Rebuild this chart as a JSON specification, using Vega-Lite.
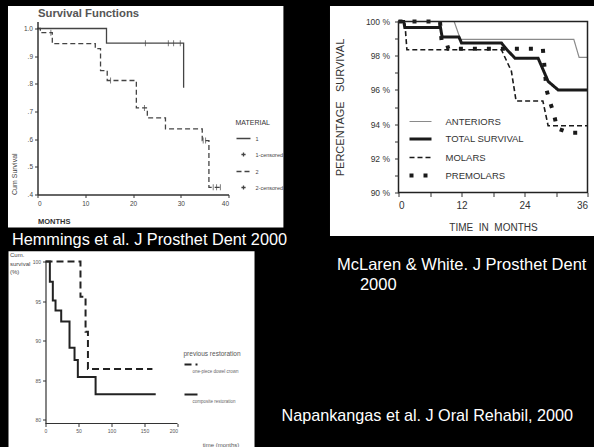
{
  "$schema": "https://vega.github.io/schema/vega-lite/v6.json",
  "background": "black",
  "padding": {"left": 7.5, "top": 5.5, "right": 0, "bottom": 0},
  "config": {
    "font": "Liberation Sans",
    "view": {"stroke": null},
    "axis": {"grid": false},
    "legend": {"labelFont": "Liberation Sans", "titleFont": "Liberation Sans"}
  },
  "resolve": {"scale": {"strokeDash": "independent", "color": "independent", "strokeWidth": "independent"}},
  "spacing": 2,
  "vconcat": [
    {
      "spacing": 42,
      "resolve": {"scale": {"strokeDash": "independent", "color": "independent", "strokeWidth": "independent"}},
      "hconcat": [
        {
          "width": 191,
          "height": 173,
          "title": {"text": "Hemmings et al. J Prosthet Dent 2000", "orient": "bottom", "anchor": "start", "dx": 4, "offset": 4, "baseline": "top", "color": "white", "fontSize": 16.3, "font": "Liberation Sans", "fontWeight": "normal"},
          "resolve": {"axis": {"x": "independent", "y": "independent"}},
          "layer": [
            {
              "data": {"values": [{}]},
              "mark": {"type": "rect", "color": "white"},
              "encoding": {
                "x": {"datum": -6.18, "type": "quantitative", "scale": {"domain": [0, 40], "nice": false, "zero": false},
                  "axis": {"zindex": 1, "values": [0, 10, 20, 30, 40], "title": "MONTHS", "titleAnchor": "start", "titleAlign": "left", "titleFontSize": 7.5, "titleFontWeight": "bold", "titleColor": "#333", "titlePadding": 10, "labelFontSize": 6.5, "labelColor": "#444", "labelPadding": 3, "tickSize": 3, "tickColor": "#333", "domainColor": "#333", "domainWidth": 1.5}},
                "x2": {"datum": 51.5},
                "y": {"datum": 0.2807, "type": "quantitative", "scale": {"domain": [0.4, 1.0253], "nice": false, "zero": false},
                  "axis": {"zindex": 1, "values": [0.4, 0.5, 0.6, 0.7, 0.8, 0.9, 1.0], "labelExpr": "replace(format(datum.value, '.1f'), '0.', '.')", "title": "Cum Survival", "titleAnchor": "start", "titleFontSize": 7, "titleFontWeight": "normal", "titleColor": "#444", "titlePadding": 6, "labelFontSize": 6.5, "labelColor": "#444", "tickSize": 3, "tickColor": "#333", "domainColor": "#333", "domainWidth": 1.5}},
                "y2": {"datum": 1.0813}
              }
            },
            {
              "data": {"values": [
                {"material": "1", "month": 0, "survival": 1.0},
                {"material": "1", "month": 14.45, "survival": 0.947},
                {"material": "1", "month": 30.6, "survival": 0.786},
                {"material": "2", "month": 0, "survival": 1.0},
                {"material": "2", "month": 0.6, "survival": 0.985},
                {"material": "2", "month": 3.1, "survival": 0.945},
                {"material": "2", "month": 12.1, "survival": 0.927},
                {"material": "2", "month": 13.2, "survival": 0.848},
                {"material": "2", "month": 14.6, "survival": 0.812},
                {"material": "2", "month": 20.7, "survival": 0.713},
                {"material": "2", "month": 23.0, "survival": 0.677},
                {"material": "2", "month": 26.8, "survival": 0.637},
                {"material": "2", "month": 34.5, "survival": 0.595},
                {"material": "2", "month": 35.9, "survival": 0.426},
                {"material": "2", "month": 38.7, "survival": 0.426}
              ]},
              "mark": {"type": "line", "interpolate": "step-after", "strokeWidth": 1.3, "color": "#444"},
              "encoding": {
                "x": {"field": "month", "type": "quantitative", "axis": null},
                "y": {"field": "survival", "type": "quantitative", "axis": null},
                "strokeDash": {"field": "material", "type": "nominal",
                  "scale": {"domain": ["1", "1-censored", "2", "2-censored"], "range": [[1, 0], [1, 0], [5, 3], [5, 3]]},
                  "legend": {"title": "MATERIAL", "orient": "none", "legendX": 198, "legendY": 97, "titleFontSize": 7, "titleFontWeight": "normal", "titleColor": "#333", "titlePadding": 5, "labelFontSize": 5.5, "labelColor": "#444", "symbolType": "stroke", "symbolSize": 196, "symbolStrokeWidth": 1.3, "symbolStrokeColor": "#444", "rowPadding": 4, "labelOffset": 4,
                    "encode": {"symbols": {"update": {"shape": {"signal": "indexof(datum.value, 'censored') >= 0 ? 'M-0.3,0H0.3M0,-0.3V0.3' : 'stroke'"}}}}}}
              }
            },
            {
              "data": {"values": [
                {"material": "1", "month": 22.6, "survival": 0.947},
                {"material": "1", "month": 27.4, "survival": 0.947},
                {"material": "1", "month": 28.5, "survival": 0.947},
                {"material": "1", "month": 29.9, "survival": 0.947},
                {"material": "2", "month": 2.8, "survival": 0.985},
                {"material": "2", "month": 15.3, "survival": 0.812},
                {"material": "2", "month": 22.4, "survival": 0.713},
                {"material": "2", "month": 34.7, "survival": 0.595},
                {"material": "2", "month": 35.2, "survival": 0.595},
                {"material": "2", "month": 36.8, "survival": 0.426},
                {"material": "2", "month": 37.5, "survival": 0.426},
                {"material": "2", "month": 38.3, "survival": 0.426}
              ]},
              "mark": {"type": "tick", "orient": "vertical", "size": 6, "thickness": 1, "color": "#444"},
              "encoding": {
                "x": {"field": "month", "type": "quantitative",
                  "axis": {"zindex": 1, "orient": "top", "domain": false, "ticks": false, "labels": false, "title": "Survival Functions", "titleAnchor": "start", "titleAlign": "left", "titleFontSize": 11.3, "titleFontWeight": "bold", "titleColor": "#555", "titlePadding": 3.5}},
                "y": {"field": "survival", "type": "quantitative", "axis": null}
              }
            }
          ]
        },
        {
          "width": 189,
          "height": 171,
          "resolve": {"axis": {"x": "independent", "y": "independent"}},
          "layer": [
            {
              "data": {"values": [{}]},
              "mark": {"type": "rect", "color": "white"},
              "encoding": {
                "x": {"datum": -13.05, "type": "quantitative", "scale": {"domain": [0, 36], "nice": false, "zero": false},
                  "axis": {"zindex": 1, "values": [0, 6, 12, 18, 24, 30, 36], "labelExpr": "datum.value % 12 === 0 ? datum.label : ''", "domain": false, "tickSize": 4, "tickColor": "#333", "labelFontSize": 10, "labelColor": "#333", "labelPadding": 4, "title": "TIME\u00a0\u00a0IN\u00a0\u00a0MONTHS", "titleFontSize": 10, "titleFontWeight": "normal", "titleColor": "#333", "titlePadding": 12}},
                "x2": {"datum": 37.24},
                "y": {"datum": 87.456, "type": "quantitative", "scale": {"domain": [90, 100], "nice": false, "zero": false},
                  "axis": {"zindex": 1, "values": [90, 91, 92, 93, 94, 95, 96, 97, 98, 99, 100], "labelExpr": "datum.value % 2 === 0 ? datum.value + ' %' : ''", "domain": false, "tickSize": 4, "tickColor": "#333", "labelFontSize": 8.5, "labelColor": "#333", "labelPadding": 5, "title": "PERCENTAGE\u00a0\u00a0\u00a0SURVIVAL", "titleFontSize": 11, "titleFontWeight": "normal", "titleColor": "#333", "titlePadding": 20}},
                "y2": {"datum": 100.906}
              }
            },
            {
              "data": {"values": [
                {"series": "ANTERIORS", "month": 0, "pct": 100},
                {"series": "ANTERIORS", "month": 10.6, "pct": 100},
                {"series": "ANTERIORS", "month": 11.8, "pct": 98.95},
                {"series": "ANTERIORS", "month": 33.4, "pct": 98.95},
                {"series": "ANTERIORS", "month": 34.4, "pct": 97.9},
                {"series": "ANTERIORS", "month": 36, "pct": 97.9},
                {"series": "TOTAL SURVIVAL", "month": 0, "pct": 100},
                {"series": "TOTAL SURVIVAL", "month": 1.0, "pct": 100},
                {"series": "TOTAL SURVIVAL", "month": 1.2, "pct": 99.65},
                {"series": "TOTAL SURVIVAL", "month": 8.0, "pct": 99.65},
                {"series": "TOTAL SURVIVAL", "month": 8.3, "pct": 99.1},
                {"series": "TOTAL SURVIVAL", "month": 11.5, "pct": 99.1},
                {"series": "TOTAL SURVIVAL", "month": 12.0, "pct": 98.75},
                {"series": "TOTAL SURVIVAL", "month": 19.6, "pct": 98.75},
                {"series": "TOTAL SURVIVAL", "month": 20.5, "pct": 98.4},
                {"series": "TOTAL SURVIVAL", "month": 22.2, "pct": 97.85},
                {"series": "TOTAL SURVIVAL", "month": 26.6, "pct": 97.85},
                {"series": "TOTAL SURVIVAL", "month": 28.5, "pct": 96.5},
                {"series": "TOTAL SURVIVAL", "month": 30.4, "pct": 96.0},
                {"series": "TOTAL SURVIVAL", "month": 36, "pct": 96.0},
                {"series": "MOLARS", "month": 0, "pct": 100},
                {"series": "MOLARS", "month": 1.2, "pct": 100},
                {"series": "MOLARS", "month": 1.6, "pct": 98.35},
                {"series": "MOLARS", "month": 19.6, "pct": 98.35},
                {"series": "MOLARS", "month": 21.5, "pct": 97.1},
                {"series": "MOLARS", "month": 22.4, "pct": 95.35},
                {"series": "MOLARS", "month": 27.5, "pct": 95.35},
                {"series": "MOLARS", "month": 28.5, "pct": 93.9},
                {"series": "MOLARS", "month": 36, "pct": 93.9},
                {"series": "PREMOLARS", "month": 0, "pct": 100},
                {"series": "PREMOLARS", "month": 7.9, "pct": 100},
                {"series": "PREMOLARS", "month": 8.2, "pct": 98.9},
                {"series": "PREMOLARS", "month": 9.0, "pct": 98.9},
                {"series": "PREMOLARS", "month": 9.5, "pct": 98.4},
                {"series": "PREMOLARS", "month": 27.5, "pct": 98.4},
                {"series": "PREMOLARS", "month": 28.2, "pct": 96.0},
                {"series": "PREMOLARS", "month": 28.8, "pct": 95.35},
                {"series": "PREMOLARS", "month": 29.6, "pct": 94.6},
                {"series": "PREMOLARS", "month": 30.2, "pct": 93.75},
                {"series": "PREMOLARS", "month": 32.5, "pct": 93.5},
                {"series": "PREMOLARS", "month": 36, "pct": 93.5}
              ]},
              "mark": {"type": "line"},
              "encoding": {
                "x": {"field": "month", "type": "quantitative", "axis": null},
                "y": {"field": "pct", "type": "quantitative", "axis": null},
                "color": {"field": "series", "type": "nominal",
                  "scale": {"domain": ["ANTERIORS", "TOTAL SURVIVAL", "MOLARS", "PREMOLARS"], "range": ["#8a8a8a", "#1a1a1a", "#1a1a1a", "#1a1a1a"]},
                  "legend": {"title": null, "orient": "bottom-left", "offset": 9, "labelFontSize": 9.5, "labelColor": "#333", "symbolType": "stroke", "symbolSize": 484, "rowPadding": 0, "labelOffset": 12}},
                "strokeWidth": {"field": "series", "type": "nominal",
                  "scale": {"type": "ordinal", "domain": ["ANTERIORS", "TOTAL SURVIVAL", "MOLARS", "PREMOLARS"], "range": [1.2, 3, 1.6, 4]},
                  "legend": {"title": null, "orient": "bottom-left", "offset": 9, "labelFontSize": 9.5, "labelColor": "#333", "symbolType": "stroke", "symbolSize": 484, "rowPadding": 0, "labelOffset": 12}},
                "strokeDash": {"field": "series", "type": "nominal",
                  "scale": {"domain": ["ANTERIORS", "TOTAL SURVIVAL", "MOLARS", "PREMOLARS"], "range": [[1, 0], [1, 0], [5, 3], [4, 10]]},
                  "legend": {"title": null, "orient": "bottom-left", "offset": 9, "labelFontSize": 9.5, "labelColor": "#333", "symbolType": "stroke", "symbolSize": 484, "rowPadding": 0, "labelOffset": 12}}
              }
            },
            {
              "data": {"values": [{}]},
              "mark": {"type": "rect", "filled": false, "color": "#222", "strokeWidth": 1.5},
              "encoding": {
                "x": {"datum": 0, "type": "quantitative", "axis": null},
                "x2": {"datum": 36},
                "y": {"datum": 90, "type": "quantitative", "axis": null},
                "y2": {"datum": 100}
              }
            }
          ]
        }
      ]
    },
    {
      "spacing": 26,
      "resolve": {"scale": {"strokeDash": "independent", "color": "independent", "strokeWidth": "independent"}},
      "hconcat": [
        {
          "width": 140,
          "height": 162,
          "resolve": {"axis": {"x": "independent", "y": "independent"}},
          "layer": [
            {
              "data": {"values": [{}]},
              "mark": {"type": "rect", "color": "white"},
              "encoding": {
                "x": {"datum": -56.06, "type": "quantitative", "scale": {"domain": [-12.12, 200], "nice": false, "zero": false},
                  "axis": {"zindex": 1, "values": [0, 50, 100, 150, 200], "domain": false, "labelFontSize": 5, "labelColor": "#555", "tickSize": 3, "tickColor": "#333", "title": "time (months)", "titleX": 183, "titleY": 22.5, "titleAlign": "center", "titleBaseline": "alphabetic", "titleFontSize": 6, "titleFontWeight": "normal", "titleColor": "#555"}},
                "x2": {"datum": 316.7},
                "y": {"datum": 75.87, "type": "quantitative", "scale": {"domain": [79.5, 100], "nice": false, "zero": false},
                  "axis": {"zindex": 1, "offset": -8, "values": [80, 85, 90, 95, 100], "labelFontSize": 5, "labelColor": "#555", "tickSize": 3, "tickColor": "#333", "domainColor": "#333", "domainWidth": 1.2, "title": ["Cum.", "survival", "(%)"], "titleAngle": 0, "titleX": -36, "titleY": -5, "titleAlign": "left", "titleBaseline": "alphabetic", "titleFontSize": 6, "titleLineHeight": 8.5, "titleFontWeight": "normal", "titleColor": "#444"}},
                "y2": {"datum": 101.3}
              }
            },
            {
              "data": {"values": [{}]},
              "mark": {"type": "rule", "color": "#333", "strokeWidth": 1.2},
              "encoding": {
                "x": {"datum": 0, "type": "quantitative", "axis": null},
                "x2": {"datum": 200},
                "y": {"datum": 79.5, "type": "quantitative", "axis": null}
              }
            },
            {
              "data": {"values": [
                {"restoration": "one-piece dowel crown", "month": 0, "survival": 100},
                {"restoration": "one-piece dowel crown", "month": 53, "survival": 95.55},
                {"restoration": "one-piece dowel crown", "month": 60.7, "survival": 91.1},
                {"restoration": "one-piece dowel crown", "month": 64.3, "survival": 86.4},
                {"restoration": "one-piece dowel crown", "month": 162, "survival": 86.4},
                {"restoration": "composite restoration", "month": 0, "survival": 100},
                {"restoration": "composite restoration", "month": 6.6, "survival": 97.45},
                {"restoration": "composite restoration", "month": 11.1, "survival": 95.05},
                {"restoration": "composite restoration", "month": 15.2, "survival": 93.8},
                {"restoration": "composite restoration", "month": 23.8, "survival": 92.4},
                {"restoration": "composite restoration", "month": 36.4, "survival": 89.1},
                {"restoration": "composite restoration", "month": 44, "survival": 87.55},
                {"restoration": "composite restoration", "month": 49, "survival": 85.4},
                {"restoration": "composite restoration", "month": 75.9, "survival": 83.2},
                {"restoration": "composite restoration", "month": 167, "survival": 83.2}
              ]},
              "mark": {"type": "line", "interpolate": "step-after", "strokeWidth": 2, "color": "#222"},
              "encoding": {
                "x": {"field": "month", "type": "quantitative", "axis": null},
                "y": {"field": "survival", "type": "quantitative", "axis": null},
                "strokeDash": {"field": "restoration", "type": "nominal",
                  "scale": {"domain": ["one-piece dowel crown", "composite restoration"], "range": [[7, 4], [1, 0]]},
                  "legend": {"title": "previous restoration", "orient": "none", "legendX": 146, "legendY": 89, "titleFontSize": 6.5, "titleFontWeight": "normal", "titleColor": "#555", "titlePadding": 0, "labelFontSize": 4.5, "labelColor": "#666", "labelBaseline": "middle", "labelOffset": -6, "symbolType": "stroke", "symbolSize": 169, "symbolStrokeWidth": 2, "symbolStrokeColor": "#222", "rowPadding": 14,
                    "encode": {"labels": {"update": {"dy": {"value": 7}}}}}}
              }
            }
          ]
        },
        {
          "spacing": 103,
          "vconcat": [
            {
              "width": 290,
              "height": 5,
              "data": {"values": [{}]},
              "mark": {"type": "text"},
              "encoding": {"text": {"value": ""}},
              "title": {"text": ["McLaren & White. J Prosthet Dent", "\u200b\u00a0\u00a0\u00a0\u00a0\u00a02000"], "orient": "bottom", "anchor": "start", "dx": 55.5, "offset": -12, "baseline": "top", "lineHeight": 20, "color": "white", "fontSize": 16.5, "font": "Liberation Sans", "fontWeight": "normal"}
            },
            {
              "width": 290,
              "height": 5,
              "data": {"values": [{}]},
              "mark": {"type": "text"},
              "encoding": {"text": {"value": ""}},
              "title": {"text": "Napankangas et al. J Oral Rehabil, 2000", "orient": "bottom", "anchor": "start", "dx": 0, "offset": 0, "baseline": "top", "color": "white", "fontSize": 16.2, "font": "Liberation Sans", "fontWeight": "normal"}
            }
          ]
        }
      ]
    }
  ]
}
